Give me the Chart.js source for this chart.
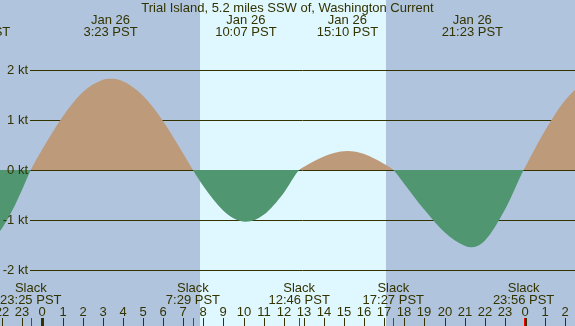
<!DOCTYPE html>
<html>
<head>
<meta charset="utf-8">
<script src="https://cdn.jsdelivr.net/npm/chart.js@4/dist/chart.umd.min.js"></script>
<style>
  html, body { margin: 0; padding: 0; background: #b0c4de; }
  canvas { display: block; }
</style>
</head>
<body>
<canvas id="currentChart" width="575" height="326"></canvas>
<script>
// hours from midnight Jan 26 (PST), current in knots (+ flood, - ebb)
const hours = [-3.13, -3, -2.5, -2, -1.5, -1, -0.583, 0, 1, 2, 3, 3.383, 4, 5, 6, 7, 7.483,
  8, 9, 9.5, 10.117, 11, 12, 12.767, 13, 14, 14.5, 15.167, 16, 17, 17.45,
  18, 19, 20, 21, 21.383, 22, 23, 23.933, 24, 25, 26, 27, 27.5];
const speed = [-1.54, -1.53, -1.41, -1.16, -0.81, -0.38, 0, 0.42, 1.07, 1.56, 1.81, 1.83, 1.78, 1.49, 0.98, 0.33, 0,
  -0.32, -0.82, -0.97, -1.04, -0.90, -0.46, 0, 0.06, 0.27, 0.34, 0.38, 0.32, 0.12, 0,
  -0.28, -0.80, -1.25, -1.52, -1.55, -1.42, -0.80, 0, 0.05, 0.79, 1.40, 1.77, 1.83];

// max flood / max ebb events (top labels)
const peakTimes = [-3.13, 3.383, 10.117, 15.167, 21.383];
const peakDates = ['Jan 25', 'Jan 26', 'Jan 26', 'Jan 26', 'Jan 26'];
const peakLabels = ['20:52 PST', '3:23 PST', '10:07 PST', '15:10 PST', '21:23 PST'];

// slack water events (bottom labels)
const slackTimes = [-0.583, 7.483, 12.767, 17.45, 23.933];
const slackLabels = ['23:25 PST', '7:29 PST', '12:46 PST', '17:27 PST', '23:56 PST'];

const yTicks = [2, 1, 0, -1, -2];
const hourTicks = [];
for (let h = -2; h <= 26; h++) hourTicks.push(h);

const sunrise = 7.84;
const sunset = 17.09;

const TITLE = 'Trial Island, 5.2 miles SSW of, Washington Current';
const NIGHT = '#b0c4de';
const DAY = '#dff7ff';
const FLOOD = '#bd9a7a';
const EBB = '#509670';
const INK = '#333300';
const FONT = '13px "Liberation Sans", Arial, sans-serif';

const backdrop = {
  id: 'backdrop',
  beforeDraw(chart) {
    const { ctx, width, height, scales: { x } } = chart;
    ctx.save();
    ctx.fillStyle = NIGHT;
    ctx.fillRect(0, 0, width, height);
    const x0 = Math.round(x.getPixelForValue(sunrise));
    const x1 = Math.round(x.getPixelForValue(sunset));
    ctx.fillStyle = DAY;
    ctx.fillRect(x0, 0, x1 - x0, height);
    ctx.restore();
  },
  beforeDatasetsDraw(chart) {
    const { ctx, width, scales: { y } } = chart;
    ctx.save();
    ctx.strokeStyle = INK;
    ctx.lineWidth = 1;
    yTicks.forEach(v => {
      const py = Math.round(y.getPixelForValue(v)) + 0.5;
      ctx.beginPath();
      ctx.moveTo(30, py);
      ctx.lineTo(width, py);
      ctx.stroke();
    });
    ctx.restore();
  }
};

const overlay = {
  id: 'overlay',
  afterDatasetsDraw(chart) {
    const { ctx, width, height, scales: { x, y } } = chart;
    ctx.save();
    ctx.fillStyle = INK;
    ctx.font = FONT;

    // y labels
    ctx.textAlign = 'right';
    ctx.textBaseline = 'middle';
    yTicks.forEach(v => {
      ctx.fillText(v + ' kt', 28, y.getPixelForValue(v) + 0.5);
    });

    // title and peak labels
    ctx.textAlign = 'center';
    ctx.textBaseline = 'alphabetic';
    ctx.fillText(TITLE, width / 2, 12);
    peakTimes.forEach((t, i) => {
      const px = x.getPixelForValue(t);
      ctx.fillText(peakDates[i], px, 24);
      ctx.fillText(peakLabels[i], px, 36);
    });

    // slack labels
    slackTimes.forEach((t, i) => {
      const px = x.getPixelForValue(t);
      ctx.fillText('Slack', px, 292);
      ctx.fillText(slackLabels[i], px, 304);
    });

    // hour ticks
    hourTicks.forEach(h => {
      const px = Math.round(x.getPixelForValue(h));
      ctx.fillText(String((h + 24) % 24), px, 316);
      if (h % 24 === 0) ctx.fillRect(px - 1, 318, 3, height - 318);
      else ctx.fillRect(px, 318, 1, height - 318);
    });

    // slack ticks
    ctx.fillStyle = '#ff0000';
    slackTimes.forEach(t => {
      const px = Math.round(x.getPixelForValue(t));
      ctx.fillRect(px, 318, 1, height - 318);
    });
    ctx.restore();
  }
};

new Chart(document.getElementById('currentChart').getContext('2d'), {
  type: 'line',
  data: {
    datasets: [{
      data: hours.map((h, i) => ({ x: h, y: speed[i] })),
      fill: { target: { value: 0 }, above: FLOOD, below: EBB },
      borderWidth: 0,
      borderColor: 'rgba(0,0,0,0)',
      pointRadius: 0,
      cubicInterpolationMode: 'monotone'
    }]
  },
  options: {
    responsive: false,
    animation: false,
    events: [],
    layout: { padding: 0 },
    plugins: { legend: { display: false }, tooltip: { enabled: false } },
    scales: {
      x: { type: 'linear', min: -2.114, max: 26.49, display: false },
      y: { min: -3.13, max: 3.41, display: false }
    }
  },
  plugins: [backdrop, overlay]
});
</script>
</body>
</html>
